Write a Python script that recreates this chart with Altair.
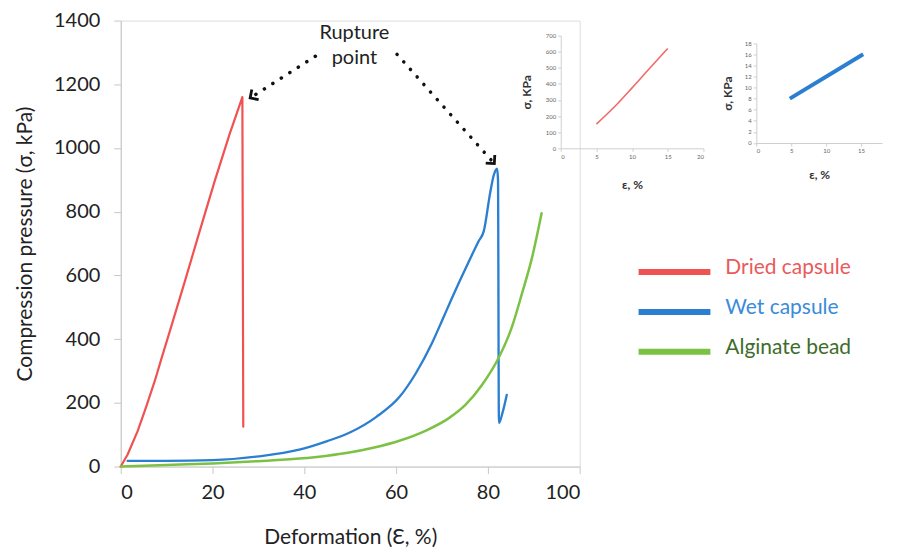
import altair as alt
import pandas as pd

FONT = "Lato"

series = ["Dried capsule", "Wet capsule", "Alginate bead"]
legend_labels = ["Dried capsule", "Wet capsule", "\u00a0Alginate bead"]
line_colors = ["#f05252", "#2b7fd1", "#7bc244"]
text_colors = ["#ea5a5c", "#3a8bd9", "#3e6c2b"]
line_widths = [2.2, 2.5, 4.5]

dried_x = [0, 1.5, 3.7, 5.5, 7.4, 9.0, 10.7, 14.0, 17.2, 20.4, 23.7, 26.5, 26.7]
dried_y = [0, 38, 112, 186, 268, 345, 425, 583, 739, 893, 1043, 1160, 125]

wet_x = [1.5, 10, 20, 30, 38.9, 45, 49.8, 55.7, 60.7, 64.3, 67.8, 70, 72.2,
         75.2, 78, 79.1, 80.5, 81.3, 82.0, 82.2, 82.4, 83.2, 84.1]
wet_y = [18, 18, 20, 32, 53, 80, 106, 156, 218, 293, 387, 458, 530,
         624, 708, 739, 860, 916, 935, 900, 137, 170, 225]

bead_x = [0, 10, 20, 30, 38.9, 45, 49.8, 55, 60.7, 66.5, 71.5, 75.2, 78.7,
          82.4, 85.2, 87.4, 89.6, 91.7]
bead_y = [0, 5, 10, 17, 25, 34, 44, 59, 81, 113, 152, 195, 256,
          343, 437, 542, 655, 795]

x_ticks = [0, 20, 40, 60, 80, 100]
y_ticks = [0, 200, 400, 600, 800, 1000, 1200, 1400]

# inset 1 (dried capsule, low strain)
inset1_x = [5, 7.5, 10, 12.5, 15]
inset1_y = [150, 256, 375, 498, 620]
inset1_xticks = [0, 5, 10, 15, 20]
inset1_yticks = [0, 100, 200, 300, 400, 500, 600, 700]

# inset 2 (wet capsule, low strain)
inset2_x = [4.8, 15.3]
inset2_y = [8.0, 16.0]
inset2_xticks = [0, 5, 10, 15]
inset2_yticks = [0, 2, 4, 6, 8, 10, 12, 14, 16, 18]

# annotation
note_text = "Rupture\npoint"
note_x = [50.9]
note_y = [1392]
arrow_x0 = [42.4, 60.2]
arrow_y0 = [1288, 1294]
arrow_x1 = [28.2, 81.4]
arrow_y1 = [1157, 951]
arrow_angle = [146, 48]

# layout (page pixels of the main plot area)
PX0, PY0 = 121, 20
W, H = 460, 447


def vx(px):
    return px - PX0


def vy(py):
    return py - PY0


rows = []
for name, xs, ys in [(series[0], dried_x, dried_y), (series[1], wet_x, wet_y), (series[2], bead_x, bead_y)]:
    for i, (a, b) in enumerate(zip(xs, ys)):
        rows.append({"x": a, "y": b, "series": name, "order": i})
main_df = pd.DataFrame(rows)

stroke_scale = alt.Scale(domain=series, range=line_colors)

x_main = alt.X("x:Q", scale=alt.Scale(domain=[0, 100], nice=False),
               axis=alt.Axis(values=x_ticks, title="Deformation (Ɛ, %)", grid=False, format="d",
                             domainColor="#c8c8c8", tickColor="#c8c8c8", tickSize=7,
                             labelFontSize=20, labelColor="#222", labelPadding=9,
                             titleFontSize=21, titleFontWeight="normal", titleColor="#222",
                             titlePadding=24, labelFont=FONT, titleFont=FONT))
y_main = alt.Y("y:Q", scale=alt.Scale(domain=[0, 1400], nice=False),
               axis=alt.Axis(values=y_ticks, title="Compression pressure  (σ, kPa)", grid=False, format="d",
                             domainColor="#c8c8c8", tickColor="#c8c8c8", tickSize=7,
                             labelFontSize=20, labelColor="#222", labelPadding=14,
                             titleFontSize=21, titleFontWeight="normal", titleColor="#222",
                             titlePadding=18, labelFont=FONT, titleFont=FONT))

line_enc = dict(
    x=x_main, y=y_main,
    stroke=alt.Stroke("series:N", scale=stroke_scale, legend=None),
    strokeWidth=alt.StrokeWidth("series:N", scale=alt.Scale(domain=series, range=line_widths), legend=None),
    detail="series:N",
    order="order:Q",
)
base = alt.Chart(main_df)
dried_line = base.mark_line(strokeCap="round", strokeJoin="round", interpolate="linear").encode(
    **line_enc).transform_filter(alt.datum.series == series[0])
other_lines = base.mark_line(strokeCap="round", strokeJoin="round", interpolate="monotone").encode(
    **line_enc).transform_filter(alt.datum.series != series[0])

note_df = pd.DataFrame({"x": note_x, "y": note_y, "t": [note_text]})
note = alt.Chart(note_df).mark_text(align="center", baseline="top", fontSize=20, lineHeight=25,
                                    lineBreak="\n", font=FONT, color="#222").encode(
    x="x:Q", y="y:Q", text="t:N")

arrow_df = pd.DataFrame({"x": arrow_x0, "y": arrow_y0, "x2": arrow_x1, "y2": arrow_y1, "angle": arrow_angle})
dots = alt.Chart(arrow_df).mark_rule(strokeDash=[0.1, 10], strokeCap="round", strokeWidth=3.5, color="#111").encode(
    x="x:Q", y="y:Q", x2="x2:Q", y2="y2:Q")
heads = alt.Chart(arrow_df).mark_point(shape="M-1,-1L0,0L-1,1", filled=False, size=150,
                                       strokeWidth=2.8, color="#111", opacity=1).encode(
    x="x2:Q", y="y2:Q", angle=alt.Angle("angle:Q", scale=None))

main = alt.layer(dried_line, other_lines, dots, heads, note)


def inset(xs, ys, xdom, xrange, xticks, ydom, yrange, yticks, color, width, xt_off, yt_off):
    df = pd.DataFrame({"x": xs, "y": ys})
    common = dict(grid=False, domainColor="#cfcfcf", tickColor="#cfcfcf", tickSize=3,
                  labelFontSize=6, labelColor="#666", labelFont=FONT, titleFont=FONT,
                  titleFontSize=12, titleFontWeight="bold", titleColor="#333", labelPadding=2)
    return alt.Chart(df).mark_line(color=color, strokeWidth=width, interpolate="monotone").encode(
        x=alt.X("x:Q", scale=alt.Scale(domain=xdom, range=xrange, nice=False, zero=False),
                axis=alt.Axis(orient="bottom", offset=yrange[0] - H, values=xticks, title="ε, %",
                              titlePadding=xt_off, **common)),
        y=alt.Y("y:Q", scale=alt.Scale(domain=ydom, range=yrange, nice=False, zero=False),
                axis=alt.Axis(orient="left", offset=-xrange[0], values=yticks, title="σ, KPa",
                              titlePadding=yt_off, **common)),
    )


inset1 = inset(inset1_x, inset1_y, [0, 20], [vx(562), vx(705)], inset1_xticks,
               [0, 700], [vy(148), vy(35)], inset1_yticks, "#f06a6a", 1.6, 20, 12)
inset2 = inset(inset2_x, inset2_y, [0, 18], [vx(758), vx(884)], inset2_xticks,
               [0, 18], [vy(142.7), vy(42.7)], inset2_yticks, "#2b7fd1", 4, 16, 10)

leg_df = pd.DataFrame({"series": series, "label": legend_labels})
leg_y = alt.Y("series:N", scale=alt.Scale(type="point", domain=series, range=[vy(272), vy(352)], padding=0),
              axis=None)
leg_rules = alt.Chart(leg_df).mark_rule(strokeWidth=6).encode(
    x=alt.value(vx(640)), x2=alt.value(vx(712)), y=leg_y,
    stroke=alt.Stroke("series:N", scale=stroke_scale, legend=None))
leg_text = alt.Chart(leg_df).mark_text(align="left", baseline="middle", dy=-4, fontSize=21, font=FONT).encode(
    x=alt.value(vx(727)), y=leg_y, text="label:N",
    fill=alt.Fill("series:N", scale=alt.Scale(domain=series, range=text_colors), legend=None))
legend = alt.layer(leg_rules, leg_text)

chart = alt.layer(main, inset1, inset2, legend).resolve_scale(
    x="independent", y="independent"
).properties(
    width=W, height=H,
    autosize=alt.AutoSizeParams(type="none"),
    padding={"left": PX0 - 8, "top": PY0 - 8, "right": 310, "bottom": 80},
).configure_view(stroke=None).configure(font=FONT)

chart.save("out.html", embed_options={"renderer": "svg", "actions": False})
